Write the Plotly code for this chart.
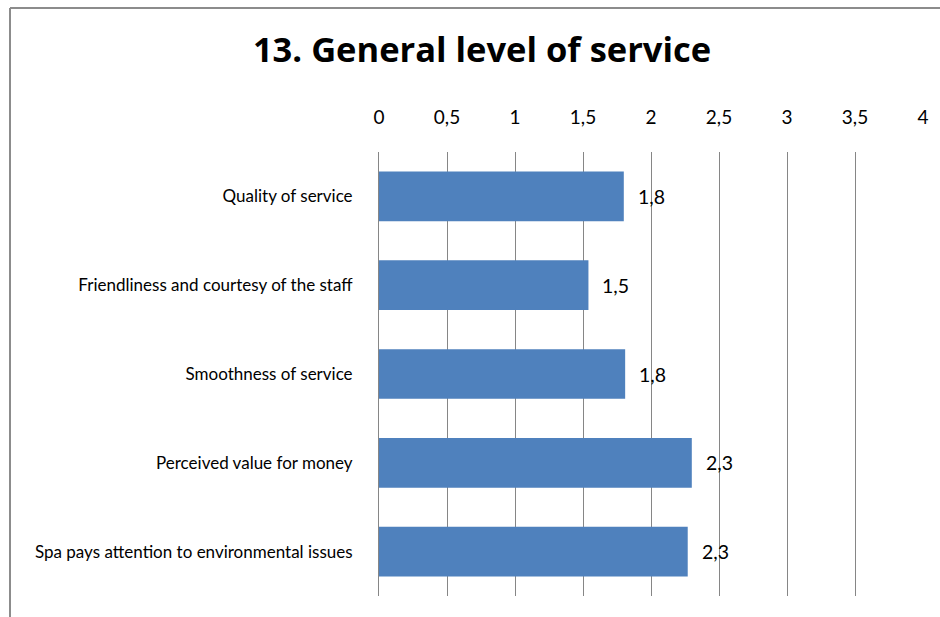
import plotly.graph_objects as go

# Survey results: general level of service (mean scores)
categories = [
    "Quality of service",
    "Friendliness and courtesy of the staff",
    "Smoothness of service",
    "Perceived value for money",
    "Spa pays attention to environmental issues",
]
scores = [1.80, 1.54, 1.81, 2.30, 2.27]
tick_values = [0, 0.5, 1, 1.5, 2, 2.5, 3, 3.5, 4]
tick_labels = ["0", "0,5", "1", "1,5", "2", "2,5", "3", "3,5", "4"]

FONT = "Lato"
TITLE_FONT = "Open Sans"
BAR_COLOR = "#4F81BD"
GRID_COLOR = "#868686"

W, H = 940, 617
L, R, T, B = 379, 17, 152, 21
pw, ph = W - L - R, H - T - B


def px_x(px):
    return (px - L) / pw


def px_y(py):
    return (H - B - py) / ph


fig = go.Figure(
    go.Bar(
        x=scores,
        y=categories,
        orientation="h",
        width=0.56,
        marker=dict(color=BAR_COLOR, line=dict(width=0)),
        hoverinfo="skip",
    )
)

# value labels placed just past the end of each bar
for cat, val in zip(categories, scores):
    fig.add_annotation(
        x=val,
        y=cat,
        xref="x",
        yref="y",
        text=f"{val:.1f}".replace(".", ","),
        showarrow=False,
        xanchor="left",
        yanchor="middle",
        xshift=12,
        font=dict(family=FONT, size=19.5, color="#000000"),
    )

# chart frame (top and left edges)
fig.add_shape(type="line", xref="paper", yref="paper",
              x0=px_x(10), x1=px_x(945), y0=px_y(8), y1=px_y(8),
              line=dict(color="#8c8c8c", width=2))
fig.add_shape(type="line", xref="paper", yref="paper",
              x0=px_x(10), x1=px_x(10), y0=px_y(8), y1=px_y(620),
              line=dict(color="#8c8c8c", width=2))

fig.update_layout(
    width=W,
    height=H,
    margin=dict(l=L, r=R, t=T, b=B, pad=0),
    paper_bgcolor="white",
    plot_bgcolor="white",
    showlegend=False,
    bargap=0.44,
    title=dict(
        text="<b>13. General level of service</b>",
        x=482 / W,
        xanchor="center",
        y=1 - 50 / H,
        yanchor="middle",
        font=dict(family=TITLE_FONT, size=34.5, color="#000000"),
    ),
    xaxis=dict(
        side="top",
        range=[0, 4],
        tickvals=tick_values,
        ticktext=tick_labels,
        showgrid=True,
        gridcolor=GRID_COLOR,
        gridwidth=1,
        zeroline=False,
        showline=False,
        ticks="outside",
        ticklen=19,
        tickcolor="rgba(0,0,0,0)",
        tickfont=dict(family=FONT, size=19, color="#000000"),
        fixedrange=True,
    ),
    yaxis=dict(
        autorange="reversed",
        showgrid=False,
        zeroline=False,
        showline=True,
        linecolor=GRID_COLOR,
        linewidth=1,
        ticks="outside",
        ticklen=22,
        tickcolor="rgba(0,0,0,0)",
        tickfont=dict(family=FONT, size=17, color="#000000"),
        fixedrange=True,
    ),
)

fig.write_html("out.html")
